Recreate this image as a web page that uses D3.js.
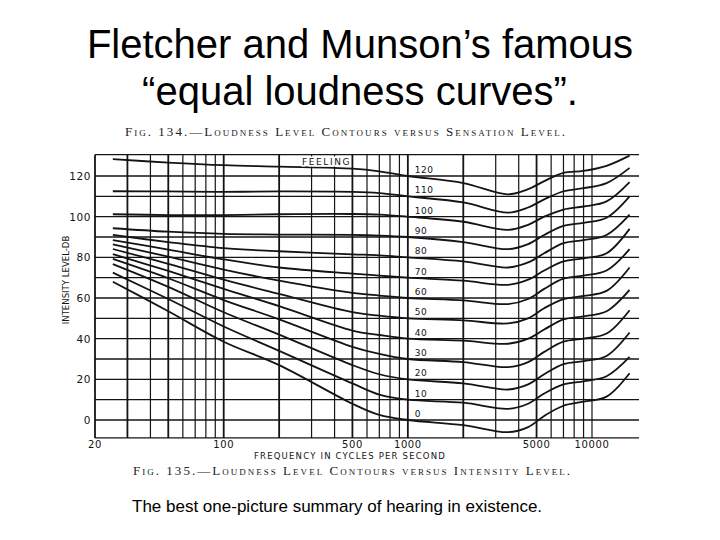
<!DOCTYPE html>
<html>
<head>
<meta charset="utf-8">
<script src="https://cdn.jsdelivr.net/npm/d3@7"></script>
<style>
  body { margin: 0; background: #fff; }
  svg { display: block; }
</style>
</head>
<body>
<div id="root"></div>
<script>
var freqs = [25, 50, 100, 200, 500, 700, 1000, 2000, 3500, 4500, 5500, 7000, 9000, 12000, 16000];

// loudness level of each contour (phon), and its intensity level (dB) at each freq
var levels = [0, 10, 20, 30, 40, 50, 60, 70, 80, 90, 100, 110, 120];
var db0   = [68,   53.5, 38.5, 27,   8,    2.5,  0,   -2.5, -6,   -3.5, 2,    7,    9,    11.5,  23];
var db10  = [72.5, 59.5, 46,   34,   18,   12.5, 10,  8.5,  5.5,  8,    13,   17.5, 19,   21.5,  31];
var db20  = [76.7, 65.5, 53,   42,   27,   22.5, 20,  18,   15,   17.5, 22.5, 27.5, 29,   31.5,  43];
var db30  = [79.2, 69.7, 59,   49.5, 36,   32.5, 30,  28.5, 26,   28.5, 33.5, 38.5, 40,   42.5,  54];
var db40  = [81.6, 73.3, 64.5, 56,   44,   41.8, 40,  39,   37.5, 40,   44.5, 49.5, 51,   53.5,  64];
var db50  = [84.1, 76.8, 69,   62,   53,   51.3, 50,  49,   47.5, 50,   55,   59.5, 61,   63.5,  75];
var db60  = [86.4, 80.3, 74,   68.5, 62.5, 61.2, 60,  58.8, 57,   59.5, 64.5, 69.5, 71,   73.5,  84];
var db70  = [88.5, 83.8, 79,   75,   72,   71,   70,  68.5, 66.5, 69,   73.5, 78,   79.5, 82,    94];
var db80  = [91,   87.5, 84.5, 83,   81.5, 81,   80,  78,   75,   77.5, 82,   87,   88.5, 91,    101];
var db90  = [94.3, 92.6, 91.5, 91.2, 91,   90.7, 90,  87.5, 84,   86.5, 91,   95.5, 97,   99.5,  110];
var db100 = [101.2,100.8,100.8,101.2,101.3,101,  100, 97.5, 93.5, 96,   100,  103.5,105,  107.5, 117];
var db110 = [112.5,112.4,112.2,112.4,112.2,111.6,110, 107,  102,  104.5,108.5,112.5,114,  116.5, 124];
var db120 = [128.3,126.6,125.3,124.6,123.6,122.3,120, 116.5,111,  113.5,117.5,121.5,122.5,125,   130];
var contours = [db0, db10, db20, db30, db40, db50, db60, db70, db80, db90, db100, db110, db120];

var xTickLabels = [20, 100, 500, 1000, 5000, 10000];
var yTickLabels = [0, 20, 40, 60, 80, 100, 120];
var gridLevels = [0, 10, 20, 30, 40, 50, 60, 70, 80, 90, 100, 110, 120];

var width = 720, height = 540;
var ink = "#141414";

var svg = d3.select("#root")
            .append("svg")
            .attr("width", width)
            .attr("height", height)
            .style("background", "#fff");

// title
var title = svg.append("text")
   .attr("text-anchor", "middle")
   .attr("font-family", "Liberation Sans, Arial, sans-serif")
   .attr("font-size", 40)
   .attr("fill", "#000");
title.append("tspan").attr("x", 360).attr("y", 58).text("Fletcher and Munson’s famous");
title.append("tspan").attr("x", 360).attr("y", 105).text("“equal loudness curves”.");

// scales
var xscale = d3.scaleLog()
               .domain([20, 18000])
               .range([95, 639]);
var yscale = d3.scaleLinear()
               .domain([0, 120])
               .range([420, 176]);

var plotTop = yscale(130.5), plotBottom = yscale(-8.8);

var plot = svg.append("g");

// grid: horizontal
plot.selectAll("line.h")
    .data(gridLevels)
    .enter().append("line")
    .attr("x1", xscale(20)).attr("x2", xscale(18000))
    .attr("y1", d => yscale(d)).attr("y2", d => yscale(d))
    .attr("stroke", ink).attr("stroke-width", 1.4);

// grid: vertical (log ticks 20..10000)
var vticks = xscale.ticks().filter(d => d >= 20 && d <= 10000);
plot.selectAll("line.v")
    .data(vticks)
    .enter().append("line")
    .attr("x1", d => xscale(d)).attr("x2", d => xscale(d))
    .attr("y1", plotTop).attr("y2", plotBottom)
    .attr("stroke", ink)
    .attr("stroke-width", d => [20, 30, 50, 100, 200, 500, 1000, 2000, 5000].indexOf(d) >= 0 ? 1.8 : 1.2);

// frame: top and bottom
plot.append("line").attr("x1", xscale(20)).attr("x2", xscale(18000))
    .attr("y1", plotTop).attr("y2", plotTop).attr("stroke", ink).attr("stroke-width", 1.4);
plot.append("line").attr("x1", xscale(20)).attr("x2", xscale(18000))
    .attr("y1", plotBottom).attr("y2", plotBottom).attr("stroke", ink).attr("stroke-width", 1.4);

// contours
var line = d3.line()
             .x((d, i) => xscale(freqs[i]))
             .y(d => yscale(d))
             .curve(d3.curveCatmullRom.alpha(0.5));

plot.selectAll("path.contour")
    .data(contours)
    .enter().append("path")
    .attr("class", "contour")
    .attr("d", line)
    .attr("fill", "none")
    .attr("stroke", ink)
    .attr("stroke-width", 1.8);

// contour labels at 1000 cps
var small = "DejaVu Sans, Verdana, sans-serif";
plot.selectAll("text.lvl")
    .data(levels)
    .enter().append("text")
    .attr("x", xscale(1000) + 7)
    .attr("y", d => yscale(d) - 3)
    .attr("font-family", small)
    .attr("font-size", 9)
    .attr("letter-spacing", 0.5)
    .attr("fill", ink)
    .style("paint-order", "stroke")
    .attr("stroke", "#fff").attr("stroke-width", 2)
    .text(d => d);

plot.append("text")
    .attr("x", 302).attr("y", 165)
    .attr("font-family", small).attr("font-size", 9)
    .attr("letter-spacing", 1.6)
    .attr("fill", ink)
    .style("paint-order", "stroke")
    .attr("stroke", "#fff").attr("stroke-width", 3)
    .text("FEELING");

// y tick labels
svg.selectAll("text.ytick")
   .data(yTickLabels)
   .enter().append("text")
   .attr("x", 91)
   .attr("y", d => yscale(d) + 4)
   .attr("text-anchor", "end")
   .attr("font-family", small)
   .attr("font-size", 10.5)
   .attr("letter-spacing", 0.6)
   .attr("fill", ink)
   .text(d => d);

// x tick labels
svg.selectAll("text.xtick")
   .data(xTickLabels)
   .enter().append("text")
   .attr("x", d => xscale(d))
   .attr("y", 448)
   .attr("text-anchor", "middle")
   .attr("font-family", small)
   .attr("font-size", 10)
   .attr("letter-spacing", 0.6)
   .attr("fill", ink)
   .text(d => d);

// axis titles
svg.append("text")
   .attr("x", 350).attr("y", 459)
   .attr("text-anchor", "middle")
   .attr("font-family", small).attr("font-size", 8.5)
   .attr("letter-spacing", 1.2)
   .attr("fill", ink)
   .text("FREQUENCY IN CYCLES PER SECOND");

svg.append("text")
   .attr("transform", "translate(69,280) rotate(-90)")
   .attr("text-anchor", "middle")
   .attr("font-family", "DejaVu Sans Condensed, DejaVu Sans, sans-serif").attr("font-size", 9.5)
   .attr("fill", ink)
   .text("INTENSITY LEVEL-DB");

// figure captions from the book
var serif = "Liberation Serif, DejaVu Serif, serif";
svg.append("text")
   .attr("x", 125).attr("y", 136)
   .attr("textLength", 440).attr("lengthAdjust", "spacing")
   .attr("font-family", serif).attr("font-size", 13)
   .style("font-variant", "small-caps")
   .attr("fill", "#222")
   .text("Fig. 134.—Loudness Level Contours versus Sensation Level.");

svg.append("text")
   .attr("x", 133).attr("y", 475)
   .attr("textLength", 437).attr("lengthAdjust", "spacing")
   .attr("font-family", serif).attr("font-size", 13)
   .style("font-variant", "small-caps")
   .attr("fill", "#222")
   .text("Fig. 135.—Loudness Level Contours versus Intensity Level.");

// slide caption
svg.append("text")
   .attr("x", 132).attr("y", 512)
   .attr("font-family", "Liberation Sans, Arial, sans-serif")
   .attr("font-size", 17)
   .attr("fill", "#000")
   .text("The best one-picture summary of hearing in existence.");
</script>
</body>
</html>
